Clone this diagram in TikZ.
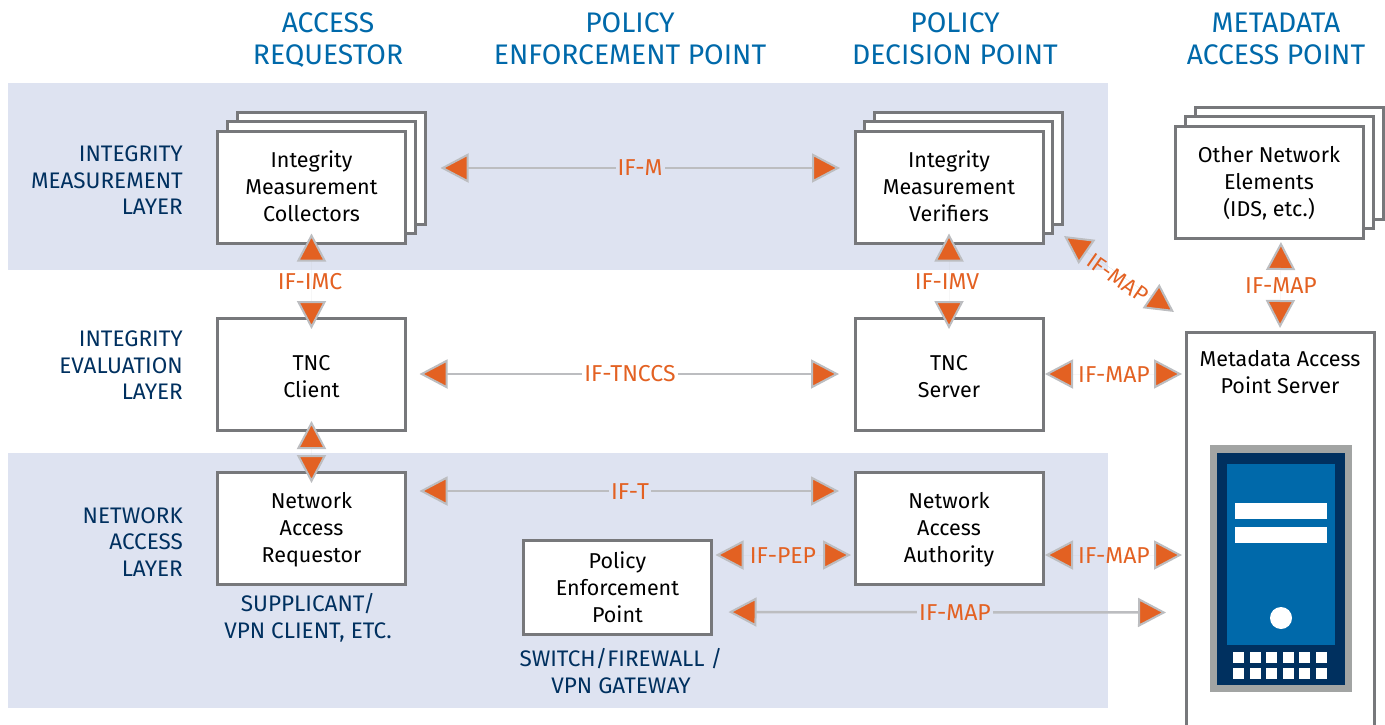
\documentclass[tikz,border=0pt]{standalone}
\usepackage{fontspec}
\setmainfont{Fira Sans}
\usetikzlibrary{arrows.meta}
\definecolor{band}{HTML}{DEE3F1}
\definecolor{edge}{HTML}{77787B}
\definecolor{tipor}{HTML}{E36122}
\definecolor{tipgr}{HTML}{BCBDC0}
\definecolor{head}{HTML}{0069AA}
\definecolor{navy}{HTML}{00305F}
\definecolor{srvgr}{HTML}{A2A4A3}
\newcommand\upstrut[1]{\rule{0pt}{#1}}
\newcommand\dnstrut[1]{\rule[-#1]{0pt}{#1}}
\tikzset{
  fat/.tip={Triangle[length=28pt,width=29pt,fill=tipor,color=tipgr,line width=2pt]},
  box/.style={draw=edge,line width=3pt,fill=white,minimum width=188pt,minimum height=112pt,inner sep=0pt,outer sep=0pt,align=center,font=\fontsize{21.5}{27}\selectfont},
  back/.style={box},
  header/.style={text=head,align=center,inner sep=0pt,font=\fontsize{28.3}{32}\selectfont},
  side/.style={text=navy,align=right,anchor=east,inner sep=0pt,font=\fontsize{22.5}{26.5}\selectfont},
  note/.style={text=navy,align=center,inner sep=0pt,font=\fontsize{22.5}{27}\selectfont},
  lab/.style={text=tipor,inner sep=2pt,font=\fontsize{23}{24}\selectfont},
  longc/.style={{fat}-{fat},draw=tipgr,line width=2.5pt},
  shortc/.style={{fat}-{fat},draw=tipgr,line width=.01pt},
}
\begin{document}
\begin{tikzpicture}[x=1pt,y=-1pt]
\useasboundingbox (0,0) rectangle (1385,725);
\fill[band] (8,83) rectangle (1108,270);
\fill[band] (8,453) rectangle (1108,708);
% headers
\node[header] (h1) at (328,40) {ACCESS\\REQUESTOR};
\node[header] (h2) at (630,39) {POLICY\\ENFORCEMENT POINT};
\node[header] (h3) at (955,39) {POLICY\\DECISION POINT};
\node[header] (h4) at (1276,39) {METADATA\\ACCESS POINT};
\node[side] (s1) at (183,180.5) {INTEGRITY\\MEASUREMENT\\LAYER};
\node[side] (s2) at (183,365.5) {INTEGRITY\\EVALUATION\\LAYER};
\node[side] (s3) at (183,542) {NETWORK\\ACCESS\\LAYER};
% stacks
\node[back] (imcb) at (331.5,168) {};
\node[back] (imcm) at (321.5,177.5) {};
\node[box] (imc) at (311.5,187.5) {Integrity\\Measurement\\Collectors\dnstrut{2pt}};
\node[back] (imvb) at (968,168) {};
\node[back] (imvm) at (958.5,177.5) {};
\node[box] (imv) at (949,187.5) {Integrity\\Measurement\\Verifiers\dnstrut{2pt}};
\node[back] (othb) at (1289,163) {};
\node[back] (othm) at (1279,172) {};
\node[box] (oth) at (1269,182) {\upstrut{18pt}Other Network\\Elements\\(IDS, etc.)};
% single boxes
\node[box] (tncc) at (311.5,374) {\upstrut{20pt}TNC\\Client};
\node[box] (tncs) at (949,374) {\upstrut{20pt}TNC\\Server};
\node[box] (nar) at (311.5,528) {\upstrut{20pt}Network\\Access\\Requestor};
\node[box] (naa) at (949,528) {\upstrut{20pt}Network\\Access\\Authority};
\node[box,minimum height=94pt] (pep) at (617.5,587) {Policy\\Enforcement\\Point};
% server
\node[fill=white,minimum width=188pt,minimum height=393pt,inner sep=0pt,outer sep=0pt] (map) at (1280,528.5) {};
\draw[edge,line width=3pt] (map.south west) |- (map.north east) -- (map.south east);
\node[note,text=black,font=\fontsize{21.5}{27}\selectfont] (mapt) at (1280,372) {Metadata Access\\Point Server};
\fill[srvgr] (1210,445) rectangle (1352,692);
\fill[navy] (1217,453) rectangle (1345,685);
\fill[head] (1227,464) rectangle (1335,645);
\fill[white] (1235,503) rectangle (1327,519);
\fill[white] (1235,527) rectangle (1327,543);
\fill[white] (1281,618) circle (11);
\foreach \x in {1233,1250,1266,1283,1299,1316}
  \foreach \y in {652,668}
    \fill[white] (\x,\y) rectangle ++(11,11);
% long connectors
\draw[longc,shorten <=15pt,shorten >=34pt] (imcb.east) -- (imvb.west);
\draw[longc,shorten <=14pt,shorten >=16pt] (tncc.east) -- (tncs.west);
\draw[longc,shorten <=14pt,shorten >=16pt] ([yshift=37pt]nar.east) -- ([yshift=37pt]naa.west);
\draw[longc,shorten <=17pt,shorten >=20pt] ([yshift=-25pt]pep.east) -- ([yshift=-84pt]map.west);
% short connectors
\draw[shortc,shorten <=-10pt,shorten >=-11pt] (imc.south) -- (tncc.north);
\draw[shortc,shorten <=-10pt,shorten >=-11pt] (imv.south) -- (tncs.north);
\draw[shortc,shorten <=-9pt,shorten >=-11pt] (tncc.south) -- (nar.north);
\draw[shortc,shorten <=4pt,shorten >=4pt] ([yshift=32pt]pep.east) -- ([yshift=-27pt]naa.west);
\draw[shortc,shorten <=2pt,shorten >=4pt] (tncs.east) -- (tncs.east -| map.west);
\draw[shortc,shorten <=2pt,shorten >=4pt] ([yshift=-27pt]naa.east) -- ([yshift=-27pt]naa.east -| map.west);
\draw[shortc,shorten <=4pt,shorten >=4pt] ([xshift=12pt]oth.south) -- (map.north);
\coordinate (diagA) at (1064,236);
\coordinate (diagB) at (1174,312);
\draw[shortc] (diagA) -- (diagB);
% labels
\node[lab,fill=band] (lm) at (640,168) {IF-M};
\node[lab,fill=white] (ltnccs) at (630,373.5) {IF-TNCCS};
\node[lab,fill=band] (lt) at (630,491.5) {IF-T};
\node[lab] (lpep) at (783,555.5) {IF-PEP};
\node[lab,fill=band] (lmap1) at (955,612.5) {IF-MAP};
\node[lab] (limc) at (310,282) {IF-IMC};
\node[lab] (limv) at (947,282) {IF-IMV};
\node[lab] (lmap2) at (1281,285.5) {IF-MAP};
\node[lab] (lmap3) at (1114,374.5) {IF-MAP};
\node[lab] (lmap4) at (1114,555.5) {IF-MAP};
\node[lab,rotate=-35,font=\fontsize{22}{24}\selectfont] (lmap5) at (1118,278) {IF-MAP};
% notes
\node[note] (n1) at (308,617.5) {SUPPLICANT/\\VPN CLIENT, ETC.};
\node[note] (n2) at (621,671) {SWITCH/FIREWALL /\\VPN GATEWAY};
\end{tikzpicture}
\end{document}
